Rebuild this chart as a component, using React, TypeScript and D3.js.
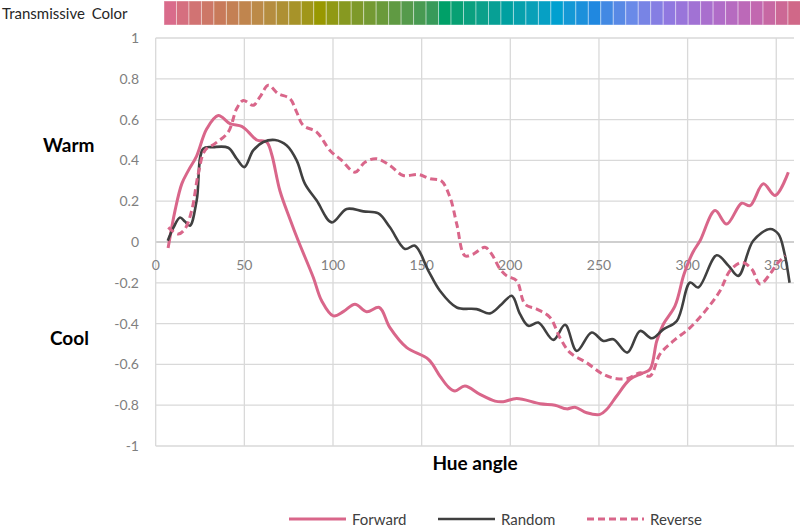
import { useEffect, useRef } from 'react';
import * as d3 from 'd3';

// [hue angle, value]
const forwardData: [number, number][] = [
  [7, -0.03], [10.9, 0.154], [14.7, 0.285], [18.4, 0.35], [23, 0.42], [28.8, 0.555],
  [35.3, 0.62], [41.9, 0.58], [48.5, 0.567], [52.2, 0.54], [57, 0.5], [62.6, 0.49],
  [65.4, 0.43], [70.1, 0.25], [75.7, 0.113], [80.4, 0.006], [88.9, -0.174], [93.6, -0.288],
  [100.2, -0.362], [106, -0.34], [112.4, -0.305], [119, -0.342], [126.1, -0.321],
  [132.1, -0.42], [141.6, -0.518], [153.8, -0.575], [160.3, -0.657], [165, -0.71],
  [168.8, -0.73], [174.4, -0.706], [182.9, -0.747], [191.4, -0.78], [196, -0.783],
  [203.6, -0.767], [216.8, -0.793], [225.2, -0.8], [231.8, -0.818], [236.5, -0.81],
  [243.1, -0.837], [250.6, -0.845], [254.4, -0.82], [260, -0.755], [267.5, -0.673],
  [274.1, -0.645], [278.8, -0.624], [282.6, -0.485], [286.3, -0.403], [292.9, -0.313],
  [298, -0.157], [303, -0.05], [307, 0.006], [315.5, 0.154], [322, 0.088], [330.5, 0.19],
  [335.2, 0.178], [342.7, 0.285], [349.3, 0.228], [356.8, 0.342],
];

const randomData: [number, number][] = [
  [6.8, 0.006], [10, 0.07], [13.7, 0.12], [16.5, 0.1], [19.3, 0.08], [23.1, 0.203],
  [26.8, 0.457], [32.5, 0.465], [40.9, 0.462], [45.7, 0.408], [50, 0.367], [55, 0.449],
  [60.7, 0.49], [67.3, 0.5], [73.9, 0.473], [79.5, 0.4], [84.2, 0.285], [90.8, 0.203],
  [99.3, 0.096], [107.7, 0.162], [117.1, 0.15], [125.6, 0.14], [132.1, 0.072],
  [140.6, -0.034], [146.2, -0.018], [153.8, -0.141], [160.3, -0.239], [169.8, -0.321],
  [181, -0.329], [188.5, -0.35], [195.1, -0.305], [200.8, -0.264], [205.5, -0.354],
  [210.2, -0.411], [215.8, -0.395], [224.3, -0.48], [230.9, -0.406], [237.5, -0.534],
  [245.9, -0.444], [252.5, -0.485], [258.1, -0.477], [266, -0.542], [273.2, -0.436],
  [279.8, -0.472], [286.3, -0.428], [293.9, -0.387], [301.4, -0.199], [306, -0.223],
  [316.4, -0.065], [323, -0.116], [328.6, -0.166], [337, 0.006], [346.5, 0.064],
  [351.2, 0.039], [354.5, -0.05], [357.5, -0.2],
];

const reverseData: [number, number][] = [
  [7.1, 0.072], [12.7, 0.039], [16.5, 0.064], [20.3, 0.154], [24, 0.334], [27.8, 0.449],
  [33.4, 0.482], [40.9, 0.539], [45.7, 0.654], [49.4, 0.694], [55, 0.67], [58.8, 0.711],
  [63.5, 0.768], [69.1, 0.727], [75.7, 0.703], [79.5, 0.637], [83.2, 0.571], [90.8, 0.539],
  [98.3, 0.449], [104.9, 0.4], [112.4, 0.342], [118, 0.391], [124.6, 0.408], [132.1, 0.375],
  [139.6, 0.326], [148.1, 0.331], [154.7, 0.31], [161, 0.3], [166, 0.219], [169.8, 0.088],
  [174.4, -0.067], [179.1, -0.059], [185.7, -0.026], [189.5, -0.059], [194.2, -0.133],
  [198, -0.166], [203.6, -0.19], [208.3, -0.305], [214.9, -0.329], [222.4, -0.37],
  [228, -0.469], [233.7, -0.542], [243.1, -0.592], [252.5, -0.649], [260, -0.67],
  [266.6, -0.668], [273.2, -0.641], [278.8, -0.657], [284.4, -0.55], [292, -0.485],
  [301.4, -0.42], [310.8, -0.329], [318.3, -0.239], [323.9, -0.141], [330.5, -0.1],
  [336.2, -0.133], [340.8, -0.206], [346.5, -0.157], [350.3, -0.108], [355, -0.067],
];

const xTicks = [0, 50, 100, 150, 200, 250, 300, 350];
const yTicks = [1, 0.8, 0.6, 0.4, 0.2, 0, -0.2, -0.4, -0.6, -0.8, -1];

// transmissive colour strip: one cell per 7 deg, colours read at a few hues
const swatchHues = d3.range(0, 351, 7);
const stripStopHues = [0, 28, 49, 84, 119, 147, 154, 189, 217, 238, 259, 280, 308, 329, 350];
const stripStopColors = [
  '#d96b8b', '#c87a5a', '#bc8a48', '#989800', '#6a9a3a', '#389a5a', '#00a068', '#00a0a0',
  '#00a0d0', '#2088e0', '#6a8ae8', '#9078e0', '#b06cc8', '#c268b0', '#d06888',
];

const PINK = '#d9668a';
const GREY = '#404040';
const FONT = 'Lato, "Open Sans", sans-serif';

const series = [
  { name: 'Forward', data: forwardData, color: PINK, dash: null as string | null },
  { name: 'Random', data: randomData, color: GREY, dash: null as string | null },
  { name: 'Reverse', data: reverseData, color: PINK, dash: '7,4' },
];

export default function App() {
  const svgRef = useRef<SVGSVGElement>(null);
  const width = 800;
  const height = 526;

  useEffect(() => {
    if (!svgRef.current) return;
    document.body.style.margin = '0';

    const svg = d3.select(svgRef.current);
    svg.selectAll('*').remove();

    const x = d3.scaleLinear().domain([0, 360]).range([155.7, 794]);
    const y = d3.scaleLinear().domain([-1, 1]).range([446, 38]);

    // colour strip
    const stripColor = d3
      .scaleLinear<string>()
      .domain(stripStopHues)
      .range(stripStopColors)
      .interpolate(d3.interpolateLab);
    const strip = svg.append('g');
    const cellW = 12.48;
    strip
      .selectAll('rect')
      .data(swatchHues)
      .join('rect')
      .attr('x', (_, i) => 164 + i * cellW)
      .attr('y', 1)
      .attr('width', cellW)
      .attr('height', 24)
      .attr('fill', (h) => stripColor(h))
      .attr('stroke', 'rgba(255,255,255,0.4)')
      .attr('stroke-width', 1);

    svg
      .append('text')
      .attr('x', 2)
      .attr('y', 19)
      .style('font-family', FONT)
      .style('font-size', '15px')
      .style('word-spacing', '3px')
      .attr('fill', '#262626')
      .text('Transmissive Color');

    // gridlines
    const grid = svg.append('g');
    grid
      .selectAll('line.h')
      .data(yTicks)
      .join('line')
      .attr('class', 'h')
      .attr('x1', x(0))
      .attr('x2', x(360))
      .attr('y1', (d) => y(d))
      .attr('y2', (d) => y(d))
      .attr('stroke', (d) => (d === 0 ? '#bfbfbf' : '#d9d9d9'))
      .attr('stroke-width', 1.3);
    grid
      .selectAll('line.v')
      .data(xTicks)
      .join('line')
      .attr('class', 'v')
      .attr('x1', (d) => x(d))
      .attr('x2', (d) => x(d))
      .attr('y1', y(1))
      .attr('y2', y(-1))
      .attr('stroke', '#d9d9d9')
      .attr('stroke-width', 1.3);

    // y tick labels
    svg
      .append('g')
      .selectAll('text')
      .data(yTicks)
      .join('text')
      .attr('x', 139)
      .attr('y', (d) => y(d) + 5)
      .attr('text-anchor', 'end')
      .style('font-family', FONT)
      .style('font-size', '14px')
      .attr('fill', '#7f7f7f')
      .text((d) => String(d));

    // x tick labels sit on the zero line
    svg
      .append('g')
      .selectAll('text')
      .data(xTicks)
      .join('text')
      .attr('x', (d) => x(d))
      .attr('y', y(0) + 28)
      .attr('text-anchor', 'middle')
      .style('font-family', FONT)
      .style('font-size', '14px')
      .attr('fill', '#7f7f7f')
      .text((d) => String(d));

    // side labels and axis title
    const bold = (tx: number, ty: number, size: number, label: string, anchor = 'start') =>
      svg
        .append('text')
        .attr('x', tx)
        .attr('y', ty)
        .attr('text-anchor', anchor)
        .style('font-family', FONT)
        .style('font-size', `${size}px`)
        .style('font-weight', '700')
        .attr('fill', '#000')
        .text(label);
    bold(43, 151.5, 19, 'Warm');
    bold(50, 345, 19, 'Cool');
    bold(475, 469.5, 19, 'Hue angle', 'middle');

    // series lines
    const line = d3
      .line<[number, number]>()
      .x((d) => x(d[0]))
      .y((d) => y(d[1]))
      .curve(d3.curveCatmullRom.alpha(0.5));

    series.forEach((s) => {
      svg
        .append('path')
        .datum(s.data)
        .attr('d', line)
        .attr('fill', 'none')
        .attr('stroke', s.color)
        .attr('stroke-width', s.name === 'Random' ? 2.6 : 3)
        .attr('stroke-dasharray', s.dash)
        .attr('stroke-linejoin', 'round');
    });

    // legend
    const legendX = [289, 438, 587];
    const legend = svg.append('g');
    series.forEach((s, i) => {
      legend
        .append('line')
        .attr('x1', legendX[i])
        .attr('x2', legendX[i] + 57)
        .attr('y1', 519)
        .attr('y2', 519)
        .attr('stroke', s.color)
        .attr('stroke-width', s.name === 'Random' ? 2.6 : 3)
        .attr('stroke-dasharray', s.dash);
      legend
        .append('text')
        .attr('x', legendX[i] + 63)
        .attr('y', 524.5)
        .style('font-family', FONT)
        .style('font-size', '15px')
        .attr('fill', '#404040')
        .text(s.name);
    });
  }, []);

  return (
    <svg
      ref={svgRef}
      width={width}
      height={height}
      style={{ position: 'absolute', left: 0, top: 0, display: 'block', background: '#fff' }}
    />
  );
}
